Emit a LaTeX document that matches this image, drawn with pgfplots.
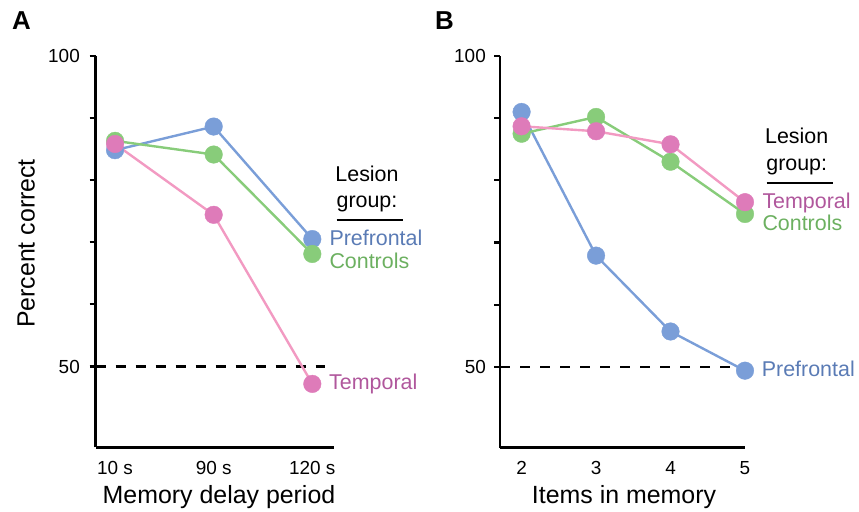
\documentclass[border=0pt]{standalone}
\usepackage{pgfplots}
\pgfplotsset{compat=1.18}
\usepackage{fontspec}
\setmainfont{Liberation Sans}
\definecolor{cblue}{HTML}{7A9ED8}
\definecolor{cbluetxt}{HTML}{5A7BB5}
\definecolor{cgreen}{HTML}{88CC7A}
\definecolor{cgreentxt}{HTML}{6CB060}
\definecolor{cpinkline}{HTML}{F29AC2}
\definecolor{cpink}{HTML}{DE7BB9}
\definecolor{cpinktxt}{HTML}{B0579C}
\pgfplotsset{
  myax/.style={
    scale only axis,
    axis lines=left,
    axis line style={-, line width=2.8bp, black},
    ymin=37, ymax=100,
    ytick={50,60,70,80,90,100},
    yticklabels={50,,,,,100},
    tick align=outside,
    major tick length=6bp,
    ytick style={line width=2.2bp, black},
    xtick style={draw=none},
    /pgf/number format/assume math mode=true,
    tick label style={font=\fontsize{19}{19}\selectfont},
    xticklabel style={anchor=base, inner sep=0pt, yshift=-21bp},
    yticklabel style={anchor=east, inner sep=0pt},
    clip=false,
  },
  ser/.style={line width=2.4bp, color=#1, mark=*, mark size=8.8bp, mark options={fill=#1, draw=#1, line width=0.4bp}},
  serp/.style={line width=2.4bp, color=cpinkline, mark=*, mark size=8.8bp, mark options={fill=cpink, draw=cpink, line width=0.4bp}},
  dashline/.style={black, line width=2.6bp, dash pattern=on 10bp off 10bp},
}
\newcommand{\lab}{\fontsize{21.5}{21.5}\selectfont}
\begin{document}
\begin{tikzpicture}[x=1bp,y=1bp]
\path[use as bounding box] (0bp,0bp) rectangle (859bp,512bp);
% Panel A
\begin{axis}[myax, at={(95.7bp,64.7bp)}, anchor=south west,
  width=238.3bp, height=391.6bp,
  xmin=-0.196, xmax=2.22,
  xtick={0,1,2}, xticklabels={10 s,90 s,120 s},
  yticklabel style={xshift=-9.7bp}]
\addplot[dashline] coordinates {(-0.196,50) (2.13,50)};
\addplot[ser=cblue] coordinates {(0,84.8) (1,88.6) (2,70.5)};
\addplot[ser=cgreen] coordinates {(0,86.3) (1,84.1) (2,68.1)};
\addplot[serp] coordinates {(0,85.8) (1,74.4) (2,47.2)};
\end{axis}
% Panel B
\begin{axis}[myax, at={(500bp,64.2bp)}, anchor=south west,
  width=245bp, height=391.8bp,
  xmin=1.71, xmax=5.0,
  xtick={2,3,4,5}, xticklabels={2,3,4,5},
  yticklabel style={xshift=-8bp}]
\addplot[dashline] coordinates {(1.71,50) (4.96,50)};
\addplot[ser=cblue] coordinates {(2,91.0) (3,67.9) (4,55.7) (5,49.4)};
\addplot[ser=cgreen] coordinates {(2,87.5) (3,90.2) (4,83.0) (5,74.6)};
\addplot[serp] coordinates {(2,88.7) (3,87.9) (4,85.8) (5,76.5)};
\end{axis}
% Panel A texts
\node[anchor=base west, inner sep=0, font=\fontsize{26}{26}\selectfont\bfseries] at (12bp,482bp) {A};
\node[anchor=base, inner sep=0, font=\fontsize{25}{25}\selectfont] at (219bp,9bp) {Memory delay period};
\node[anchor=base, inner sep=0, rotate=90, font=\fontsize{25}{25}\selectfont] at (34.5bp,268.5bp) {Percent correct};
\node[anchor=base, inner sep=0, font=\lab] at (367bp,330.3bp) {Lesion};
\node[anchor=base, inner sep=0, font=\lab] at (367bp,304bp) {group:};
\draw[line width=2.2bp] (336.7bp,292bp) -- (403.3bp,292bp);
\node[anchor=base west, inner sep=0, font=\lab, text=cbluetxt] at (329.3bp,266.3bp) {Prefrontal};
\node[anchor=base west, inner sep=0, font=\lab, text=cgreentxt] at (329.3bp,243.7bp) {Controls};
\node[anchor=base west, inner sep=0, font=\lab, text=cpinktxt] at (329bp,122.7bp) {Temporal};
% Panel B texts
\node[anchor=base west, inner sep=0, font=\fontsize{26}{26}\selectfont\bfseries] at (435bp,482bp) {B};
\node[anchor=base, inner sep=0, font=\fontsize{25}{25}\selectfont] at (624bp,9bp) {Items in memory};
\node[anchor=base, inner sep=0, font=\lab] at (796.7bp,368.7bp) {Lesion};
\node[anchor=base, inner sep=0, font=\lab] at (796.7bp,341.3bp) {group:};
\draw[line width=2.2bp] (766.7bp,329.3bp) -- (833.3bp,329.3bp);
\node[anchor=base west, inner sep=0, font=\lab, text=cpinktxt] at (762.3bp,303.7bp) {Temporal};
\node[anchor=base west, inner sep=0, font=\lab, text=cgreentxt] at (762.3bp,281.3bp) {Controls};
\node[anchor=base west, inner sep=0, font=\lab, text=cbluetxt] at (761.7bp,135.3bp) {Prefrontal};
\end{tikzpicture}
\end{document}
